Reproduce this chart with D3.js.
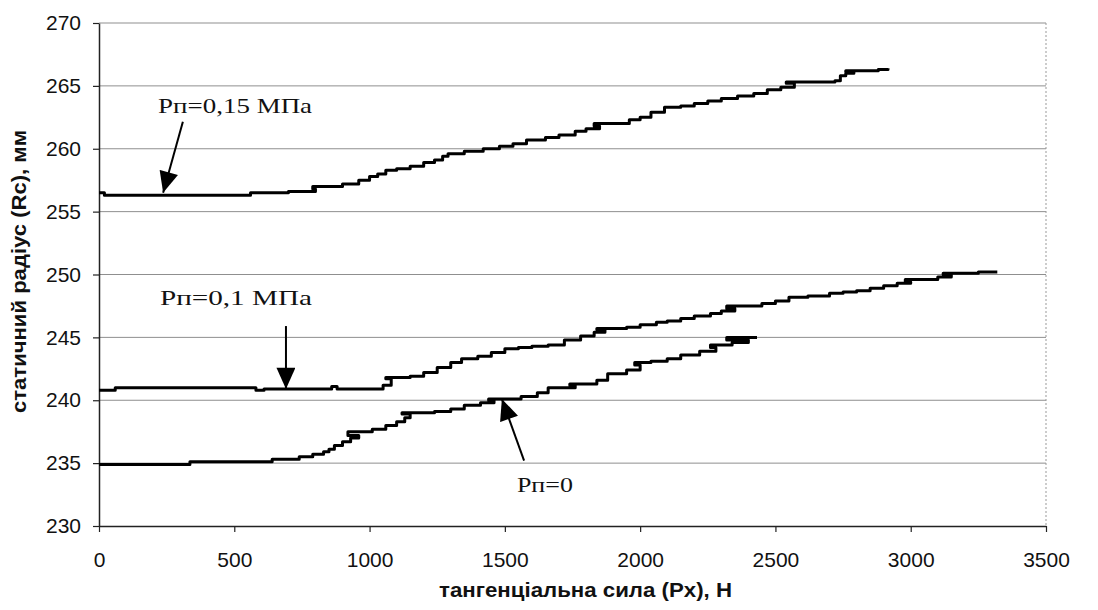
<!DOCTYPE html>
<html>
<head>
<meta charset="utf-8">
<script src="https://cdn.jsdelivr.net/npm/d3@7"></script>
<style>
  body { margin: 0; background: #fff; }
  svg { display: block; }
</style>
</head>
<body>
<div class="chart"></div>
<script>
let width = 1098;
let height = 610;
let margin = {top: 23, right: 52, bottom: 84, left: 99};

// tick values
let xTicks = [0, 500, 1000, 1500, 2000, 2500, 3000, 3500];
let yTicks = [230, 235, 240, 245, 250, 255, 260, 265, 270];

// Pп=0,15 МПа  [Px, Rc]  (a few x steps go back: the small hooks seen in the plot)
let p015 = [[0,256.5],[20,256.3],[480,256.3],[560,256.5],[700,256.6],[800,256.8],[790,257.0],[900,257.2],
  [960,257.5],[1000,257.8],[1030,258.0],[1060,258.3],[1100,258.4],[1150,258.6],[1200,258.9],[1240,259.1],
  [1270,259.4],[1290,259.6],[1350,259.8],[1420,260.0],[1480,260.2],[1530,260.4],[1580,260.7],[1650,260.9],
  [1700,261.1],[1760,261.4],[1800,261.6],[1850,261.8],[1830,262.0],[1900,262.0],[1960,262.3],[2000,262.5],
  [2040,262.9],[2090,263.3],[2150,263.4],[2200,263.6],[2250,263.8],[2300,264.0],[2360,264.2],[2420,264.4],
  [2470,264.7],[2520,264.9],[2570,265.2],[2540,265.3],[2640,265.3],[2720,265.4],[2740,265.8],[2760,266.0],
  [2790,266.1],[2760,266.2],[2850,266.2],[2880,266.3],[2916,266.4]];

// Pп=0,1 МПа
let p01 = [[0,240.8],[60,241.0],[580,240.8],[610,240.9],[830,240.9],[860,241.1],[880,240.9],[1030,240.9],
  [1050,241.2],[1080,241.7],[1060,241.8],[1150,241.9],[1200,242.2],[1250,242.6],[1300,243.0],[1340,243.3],
  [1400,243.5],[1450,243.8],[1500,244.1],[1550,244.2],[1600,244.3],[1660,244.4],[1720,244.8],[1780,245.1],
  [1830,245.4],[1870,245.6],[1840,245.7],[1950,245.8],[2000,246.0],[2060,246.2],[2100,246.3],[2150,246.5],
  [2200,246.7],[2260,246.9],[2300,247.1],[2350,247.3],[2320,247.5],[2400,247.5],[2450,247.7],[2500,247.9],
  [2550,248.2],[2620,248.3],[2700,248.5],[2750,248.6],[2800,248.7],[2850,248.9],[2900,249.1],[2950,249.3],
  [3000,249.4],[2980,249.6],[3050,249.6],[3100,249.8],[3150,250.0],[3120,250.1],[3200,250.1],[3250,250.2],
  [3320,250.2]];

// Pп=0
let p0 = [[0,234.9],[336,235.1],[640,235.3],[740,235.5],[790,235.7],[830,235.9],[850,236.1],[870,236.4],
  [900,236.7],[930,237.0],[960,237.2],[920,237.5],[990,237.5],[1010,237.7],[1060,238.0],[1100,238.3],
  [1130,238.6],[1150,238.9],[1120,239.0],[1240,239.1],[1300,239.3],[1350,239.6],[1410,239.8],[1460,240.0],
  [1440,240.1],[1560,240.3],[1620,240.6],[1660,241.0],[1760,241.2],[1740,241.3],[1840,241.6],[1880,242.1],
  [1950,242.4],[2000,242.8],[1980,243.0],[2040,243.1],[2100,243.3],[2150,243.6],[2220,243.9],[2280,244.2],
  [2260,244.4],[2340,244.6],[2400,244.8],[2320,245.0],[2432,245.0]];

let series = [p015, p01, p0];

// annotation labels: text, label anchor, arrow start, arrow tip  (data units)
let labels = ['Pп=0,15 МПа', 'Pп=0,1 МПа', 'Pп=0'];
let labelAt = [[503, 262.86], [506, 247.6], [1648, 232.7]];
let labelWidth = [154, 152, 56];
let arrowFrom = [[310, 262.14], [691, 245.9], [1571, 235.2]];
let arrowTo = [[237, 256.5], [691, 240.9], [1489, 240.1]];

let svg = d3.select('.chart')
  .append('svg')
  .attr('width', width)
  .attr('height', height);

let xScale = d3.scaleLinear()
  .domain([0, 3500])
  .range([margin.left, width - margin.right]);
let yScale = d3.scaleLinear()
  .domain([230, 270])
  .range([height - margin.bottom, margin.top]);

// grid
svg.append('g')
  .selectAll('line')
  .data(yTicks.slice(1))
  .enter()
  .append('line')
  .attr('x1', margin.left)
  .attr('x2', width - margin.right)
  .attr('y1', d => yScale(d))
  .attr('y2', d => yScale(d))
  .attr('stroke', '#8f8f8f')
  .attr('stroke-width', 1);

// right border (dotted)
svg.append('line')
  .attr('x1', width - margin.right)
  .attr('x2', width - margin.right)
  .attr('y1', margin.top)
  .attr('y2', height - margin.bottom)
  .attr('stroke', '#999')
  .attr('stroke-dasharray', '2,2');

let xAxis = d3.axisBottom(xScale)
  .tickValues(xTicks)
  .tickSize(6)
  .tickSizeOuter(0)
  .tickPadding(20)
  .tickFormat(d3.format('d'));
let yAxis = d3.axisLeft(yScale)
  .tickValues(yTicks)
  .tickSize(6)
  .tickSizeOuter(0)
  .tickPadding(12)
  .tickFormat(d3.format('d'));

let gx = svg.append('g')
  .attr('transform', 'translate(0,' + (height - margin.bottom) + ')')
  .call(xAxis);
let gy = svg.append('g')
  .attr('transform', 'translate(' + margin.left + ',0)')
  .call(yAxis);

[gx, gy].forEach(g => {
  g.select('.domain').attr('stroke', '#222').attr('stroke-width', 1.5);
  g.selectAll('.tick line').attr('stroke', '#222').attr('stroke-width', 1.2);
  g.selectAll('.tick text')
    .attr('fill', '#111')
    .style('font-family', 'Arial, "Liberation Sans", sans-serif')
    .style('font-size', '21px');
});

// curves
let line = d3.line()
  .x(d => xScale(d[0]))
  .y(d => yScale(d[1]))
  .curve(d3.curveStepAfter);

svg.append('g')
  .selectAll('path')
  .data(series)
  .enter()
  .append('path')
  .attr('d', line)
  .attr('fill', 'none')
  .attr('stroke', '#000')
  .attr('stroke-width', 3)
  .attr('stroke-linejoin', 'round');

// arrows
svg.append('defs')
  .append('marker')
  .attr('id', 'head')
  .attr('markerUnits', 'userSpaceOnUse')
  .attr('viewBox', '0 0 20 18')
  .attr('refX', 20)
  .attr('refY', 9)
  .attr('markerWidth', 22)
  .attr('markerHeight', 19)
  .attr('orient', 'auto')
  .append('path')
  .attr('d', 'M0,0 L20,9 L0,18 Z')
  .attr('fill', '#000');

svg.append('g')
  .selectAll('line')
  .data(labels)
  .enter()
  .append('line')
  .attr('x1', (d, i) => xScale(arrowFrom[i][0]))
  .attr('y1', (d, i) => yScale(arrowFrom[i][1]))
  .attr('x2', (d, i) => xScale(arrowTo[i][0]))
  .attr('y2', (d, i) => yScale(arrowTo[i][1]))
  .attr('stroke', '#000')
  .attr('stroke-width', 2)
  .attr('marker-end', 'url(#head)');

svg.append('g')
  .selectAll('text')
  .data(labels)
  .enter()
  .append('text')
  .attr('x', (d, i) => xScale(labelAt[i][0]) - labelWidth[i] / 2)
  .attr('y', (d, i) => yScale(labelAt[i][1]))
  .attr('textLength', (d, i) => labelWidth[i])
  .attr('lengthAdjust', 'spacingAndGlyphs')
  .style('font-family', '"Liberation Serif", "Times New Roman", serif')
  .style('font-size', '22px')
  .attr('fill', '#111')
  .text(d => d);

// axis titles
svg.append('text')
  .attr('x', 439)
  .attr('y', 597)
  .attr('textLength', 293)
  .attr('lengthAdjust', 'spacingAndGlyphs')
  .style('font-family', 'Arial, "Liberation Sans", sans-serif')
  .style('font-weight', 'bold')
  .style('font-size', '20px')
  .attr('fill', '#111')
  .text('тангенціальна сила (Px), Н');

svg.append('text')
  .attr('transform', 'translate(26,413) rotate(-90)')
  .attr('x', 0)
  .attr('y', 0)
  .attr('textLength', 283)
  .attr('lengthAdjust', 'spacingAndGlyphs')
  .style('font-family', 'Arial, "Liberation Sans", sans-serif')
  .style('font-weight', 'bold')
  .style('font-size', '20px')
  .attr('fill', '#111')
  .text('статичний радіус (Rc), мм');
</script>
</body>
</html>
